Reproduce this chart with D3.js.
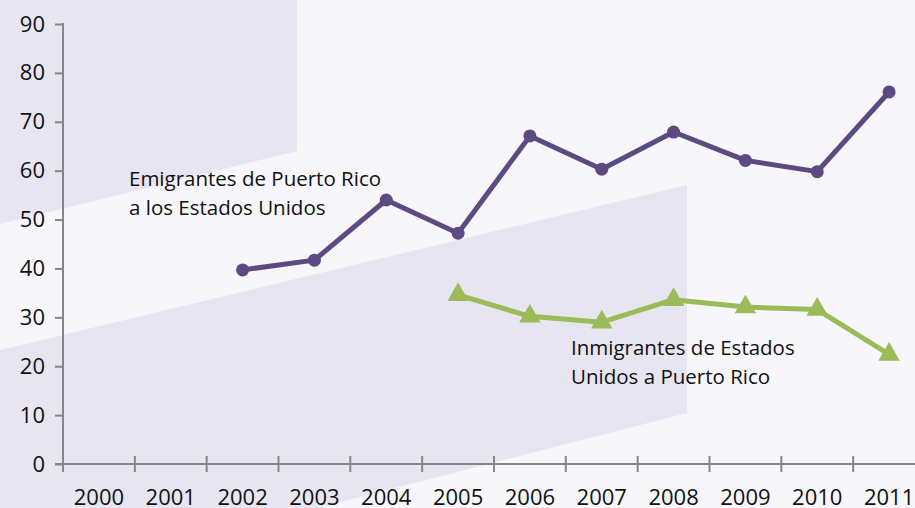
<!DOCTYPE html>
<html><head><meta charset="utf-8">
<script src="https://cdn.jsdelivr.net/npm/d3@7"></script>
<style>html,body{margin:0;padding:0;background:#f6f6fb;overflow:hidden}</style>
</head><body>
<svg id="c" width="915" height="508"></svg>
<script>
const years = ["2000","2001","2002","2003","2004","2005","2006","2007","2008","2009","2010","2011"];
const emigrantes = [null,null,39.7,41.7,54.0,47.2,67.1,60.3,67.9,62.1,59.8,76.1];
const inmigrantes = [null,null,null,null,null,34.6,30.2,29.0,33.6,32.1,31.6,22.4];
const yTicks = [0,10,20,30,40,50,60,70,80,90];
const labelEmi = ["Emigrantes de Puerto Rico","a los Estados Unidos"];
const labelInm = ["Inmigrantes de Estados","Unidos a Puerto Rico"];

const svg = d3.select("#c");
const W = 915, H = 508;
const x = d3.scaleBand().domain(years).range([63, 925]);
const y = d3.scaleLinear().domain([0, 90]).range([464, 24]);

// background
svg.append("rect").attr("width", W).attr("height", H).attr("fill", "#f6f6fb");
const shade = "#e7e5f2";
svg.append("path").attr("fill", shade)
  .attr("d", "M0,0 L297,0 L297,151 L0,224 Z");
svg.append("path").attr("fill", shade)
  .attr("d", "M0,350 L687,185 L687,413 L317,508 L0,508 Z");

const font = "'Open Sans', sans-serif";
const axisCol = "#868686";

// y axis
const gy = svg.append("g").attr("transform", "translate(63,0)")
  .call(d3.axisLeft(y).tickValues(yTicks).tickSize(8).tickPadding(10).tickFormat(d3.format("d")));
gy.select(".domain").remove();
gy.selectAll(".tick line").attr("stroke", axisCol).attr("stroke-width", 2);
gy.selectAll(".tick text").attr("font-family", font).attr("font-size", 22).attr("fill", "#111");
svg.append("line").attr("x1", 63).attr("x2", 63).attr("y1", y(90) - 1).attr("y2", y(0) + 8)
  .attr("stroke", axisCol).attr("stroke-width", 2);

// x axis
svg.append("line").attr("x1", 55).attr("x2", 925).attr("y1", y(0)).attr("y2", y(0))
  .attr("stroke", axisCol).attr("stroke-width", 2);
svg.selectAll(".xt").data(years.slice(1)).enter().append("line")
  .attr("x1", d => x(d)).attr("x2", d => x(d))
  .attr("y1", y(0) - 8).attr("y2", y(0) + 8)
  .attr("stroke", axisCol).attr("stroke-width", 2);
svg.selectAll(".xl").data(years).enter().append("text")
  .attr("x", d => x(d) + x.bandwidth() / 2).attr("y", 505)
  .attr("text-anchor", "middle").attr("font-family", font).attr("font-size", 22).attr("fill", "#111")
  .text(d => d);

// series
const purple = "#5d4a82", green = "#9bbb59";
const emiData = years.map((d, i) => ({year: d, v: emigrantes[i]})).filter(d => d.v != null);
const inmData = years.map((d, i) => ({year: d, v: inmigrantes[i]})).filter(d => d.v != null);
const cx = d => x(d.year) + x.bandwidth() / 2;
const line = d3.line().x(cx).y(d => y(d.v));

svg.append("path").datum(emiData).attr("d", line).attr("fill", "none")
  .attr("stroke", purple).attr("stroke-width", 5).attr("stroke-linejoin", "round");
svg.selectAll(".ep").data(emiData).enter().append("circle")
  .attr("cx", cx).attr("cy", d => y(d.v)).attr("r", 6.5).attr("fill", purple);

svg.append("path").datum(inmData).attr("d", line).attr("fill", "none")
  .attr("stroke", green).attr("stroke-width", 5).attr("stroke-linejoin", "round");
svg.selectAll(".ip").data(inmData).enter().append("path")
  .attr("d", d3.symbol(d3.symbolTriangle).size(200))
  .attr("transform", d => `translate(${cx(d)},${y(d.v)})`).attr("fill", green);

// labels
const addLabel = (lines, x0, y0) => {
  const t = svg.append("text").attr("font-family", font).attr("font-size", 20.5).attr("fill", "#111");
  lines.forEach((s, i) => t.append("tspan").attr("x", x0).attr("y", y0 + i * 29).text(s));
};
addLabel(labelEmi, 129, 186);
addLabel(labelInm, 571, 355);
</script>
</body></html>
